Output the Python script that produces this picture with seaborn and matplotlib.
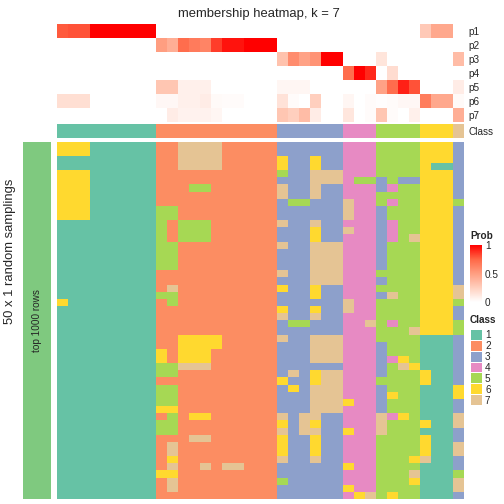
import numpy as np
import pandas as pd
import seaborn as sns
import matplotlib.pyplot as plt
from matplotlib.colors import ListedColormap, LinearSegmentedColormap
from matplotlib.cm import ScalarMappable
from matplotlib.colors import Normalize

sns.set_theme(style="white")
plt.rcParams["font.family"] = ["Liberation Sans", "DejaVu Sans"]

# classes and their colours
class_labels = ["1", "2", "3", "4", "5", "6", "7"]
class_colors = ["#66C2A5", "#FC8D62", "#8DA0CB", "#E78AC3", "#A6D854", "#FFD92F", "#E5C494"]

# consensus class of each of the 37 columns
col_class = "111111111 22222222222 333333 444 5555 666 7"

# membership probabilities per column
p1 = [0.78, 0.8, 0.8, 1, 1, 1, 1, 1, 1,
      0, 0, 0, 0, 0, 0, 0, 0, 0, 0, 0,
      0, 0, 0, 0, 0, 0, 0, 0, 0, 0, 0, 0, 0,
      0.28, 0.45, 0.45, 0]
p2 = [0, 0, 0, 0, 0, 0, 0, 0, 0,
      0.5, 0.42, 0.72, 0.66, 0.62, 0.85, 0.95, 0.95, 1, 1, 1,
      0, 0, 0, 0, 0, 0, 0, 0, 0, 0, 0, 0, 0,
      0, 0, 0, 0]
p3 = [0, 0, 0, 0, 0, 0, 0, 0, 0,
      0, 0, 0, 0, 0, 0, 0, 0, 0, 0, 0,
      0.32, 0.58, 0.48, 0.55, 1, 1, 0, 0, 0, 0.14, 0, 0, 0,
      0, 0, 0, 0.35]
p4 = [0, 0, 0, 0, 0, 0, 0, 0, 0,
      0, 0, 0, 0, 0, 0, 0, 0, 0, 0, 0,
      0, 0, 0, 0, 0, 0, 0.72, 1, 0.9, 0, 0.18, 0, 0,
      0, 0, 0, 0]
p5 = [0, 0, 0, 0, 0, 0, 0, 0, 0,
      0.3, 0.3, 0.08, 0.08, 0.08, 0, 0, 0, 0, 0, 0,
      0.05, 0.05, 0.05, 0, 0, 0, 0, 0, 0, 0.48, 0.72, 0.92, 0.8,
      0, 0, 0, 0.1]
p6 = [0.17, 0.17, 0.17, 0, 0, 0, 0, 0, 0,
      0.04, 0.04, 0.08, 0.08, 0.1, 0.03, 0.02, 0.02, 0, 0, 0,
      0.15, 0.02, 0, 0.25, 0, 0, 0.05, 0, 0.02, 0.01, 0.02, 0.04, 0.04,
      0.65, 0.45, 0.45, 0.03]
p7 = [0, 0, 0, 0, 0, 0, 0, 0, 0,
      0, 0.1, 0.07, 0.07, 0.07, 0.05, 0, 0, 0, 0, 0,
      0.3, 0.25, 0.35, 0.1, 0, 0, 0.13, 0, 0.02, 0.3, 0.02, 0, 0.08,
      0, 0, 0, 0.42]
prob_names = ["p1", "p2", "p3", "p4", "p5", "p6", "p7"]

# class found in each of the 50 random samplings (rows) for every column
samplings = [
    "666111111 22777722222 333333 444 5555 666 3",
    "666111111 22777722222 333333 444 5555 666 3",
    "111111111 22777722222 633633 444 5555 666 3",
    "111111111 22777722222 633633 444 5555 611 3",
    "666111111 22222222222 533777 444 5555 666 3",
    "666111111 22222222222 333777 455 3533 666 3",
    "666111111 22255222222 733733 444 3455 666 3",
    "666111111 22222222222 733733 444 5555 666 3",
    "666111111 22222222222 355333 744 5455 666 5",
    "666111111 55222222222 333333 744 3555 666 3",
    "666111111 55222222222 333333 744 3555 666 3",
    "111111111 52555222222 733733 444 3455 666 3",
    "111111111 52555222222 333633 744 3455 666 3",
    "111111111 52555222222 333633 444 3457 666 3",
    "111111111 55222222222 733777 444 3555 666 3",
    "111111111 55222222222 333777 444 3555 666 3",
    "111111111 55222222222 333777 444 3555 666 3",
    "111111111 55222222222 333777 444 3555 666 3",
    "111111111 22222222222 733777 444 5555 666 3",
    "111111111 22222222222 333777 444 3555 666 3",
    "111111111 27222222222 633633 444 5555 666 7",
    "111111111 55222222222 333633 444 3755 666 7",
    "611111111 25222222222 333333 744 5555 666 5",
    "111111111 22222222222 633633 744 5555 666 3",
    "111111111 22222222222 733733 444 5555 666 3",
    "111111111 22222222222 355333 447 5455 666 5",
    "111111111 22222222222 333333 444 5557 666 5",
    "111111111 22666622222 733777 444 5555 111 3",
    "111111111 22666622222 333777 444 3555 111 3",
    "111111111 62666222222 333777 444 3555 111 3",
    "111111111 62666222222 333777 444 3465 111 3",
    "111111111 55777222222 333333 444 3576 111 3",
    "111111111 55222222222 373677 444 3555 611 3",
    "111111111 22222222222 633677 444 5555 611 3",
    "111111111 55222222222 363777 444 3555 111 6",
    "111111111 55222222222 333777 444 3655 111 6",
    "111111111 55222222222 333777 644 3555 111 3",
    "111111111 66222222222 333777 444 3555 111 3",
    "111111111 25266222222 737733 444 7465 111 7",
    "111111111 55222222222 637633 444 7555 611 7",
    "111111111 55222222222 737733 644 7555 111 3",
    "111111111 22277222222 633633 444 5555 611 3",
    "111111111 27222222222 633633 444 5555 611 7",
    "111111111 27222222222 633633 444 5555 611 7",
    "111111111 26222222222 733733 444 5556 711 3",
    "111111111 27227277222 333333 644 5555 111 3",
    "111111111 66222222222 333333 444 5557 111 5",
    "111111111 27222222222 533333 444 5556 111 7",
    "111111111 27222222222 333333 644 5555 111 7",
    "111111111 22222222222 333333 467 5655 111 3",
]


def to_ints(s):
    return [int(c) for c in s.replace(" ", "")]


member = pd.DataFrame([to_ints(r) for r in samplings])
cls_row = pd.DataFrame([to_ints(col_class)], index=["Class"])
prob_df = pd.DataFrame([p1, p2, p3, p4, p5, p6, p7], index=prob_names)

class_cmap = ListedColormap(class_colors)
# white -> red, interpolated in Lab like colorRamp2
prob_cmap = LinearSegmentedColormap.from_list(
    "prob", [(0, "#FFFFFF"), (0.25, "#FFCFBE"), (0.5, "#FF9E81"), (0.75, "#FF6746"), (1, "#FF0000")])

fig = plt.figure(figsize=(7, 7), dpi=72)
W = H = 504.0


def px_axes(x0, y0, x1, y1):
    return fig.add_axes([x0 / W, 1 - y1 / H, (x1 - x0) / W, (y1 - y0) / H])


# probability rows
ax_p = px_axes(57, 23.5, 464, 122)
sns.heatmap(prob_df, ax=ax_p, cmap=prob_cmap, vmin=0, vmax=1, cbar=False,
            xticklabels=False, yticklabels=prob_names)
ax_p.yaxis.tick_right()
ax_p.tick_params(axis="y", length=0, labelsize=10, rotation=0, pad=4)

# class row
ax_c = px_axes(57, 124, 464, 138)
sns.heatmap(cls_row, ax=ax_c, cmap=class_cmap, vmin=0.5, vmax=7.5, cbar=False,
            xticklabels=False, yticklabels=["Class"])
ax_c.yaxis.tick_right()
ax_c.tick_params(axis="y", length=0, labelsize=10, rotation=0, pad=4)

# main membership heatmap
ax_m = px_axes(57, 141.5, 464, 499)
sns.heatmap(member, ax=ax_m, cmap=class_cmap, vmin=0.5, vmax=7.5, cbar=False,
            xticklabels=False, yticklabels=False)

# left annotation bar
ax_b = px_axes(23, 141.5, 51, 499)
sns.heatmap(pd.DataFrame([[1]]), ax=ax_b, cmap=ListedColormap(["#7FC97F"]), cbar=False,
            xticklabels=False, yticklabels=False)
ax_b.text(0.5, 0.5, "top 1000 rows", rotation=90, ha="center", va="center", fontsize=10,
          transform=ax_b.transAxes)

fig.text(258.5 / W, 1 - 13.5 / H, "membership heatmap, k = 7", ha="center", va="center", fontsize=13)
fig.text(10.5 / W, 1 - 251 / H, "50 x 1 random samplings", rotation=90, ha="center", va="center",
         fontsize=13)

# Prob legend
fig.text(470 / W, 1 - 236 / H, "Prob", fontweight="bold", fontsize=10, va="center")
cax = px_axes(470, 245, 482, 302)
cb = fig.colorbar(ScalarMappable(norm=Normalize(0, 1), cmap=prob_cmap), cax=cax)
cb.set_ticks([0, 0.5, 1])
cb.set_ticklabels(["0", "0.5", "1"])
cb.outline.set_visible(False)
cax.tick_params(labelsize=10, length=3, width=1, color="white", direction="in", pad=3,
                left=True, right=True)

# Class legend
fig.text(470 / W, 1 - 320 / H, "Class", fontweight="bold", fontsize=10, va="center")
ax_l = px_axes(470, 329, 482, 405)
sns.heatmap(pd.DataFrame({"c": [1, 2, 3, 4, 5, 6, 7]}), ax=ax_l, cmap=class_cmap, vmin=0.5, vmax=7.5,
            cbar=False, linewidths=0.8, linecolor="white", xticklabels=False, yticklabels=class_labels)
ax_l.yaxis.tick_right()
ax_l.tick_params(axis="y", length=0, labelsize=10, rotation=0, pad=3)

plt.savefig("out.png", dpi=72)
